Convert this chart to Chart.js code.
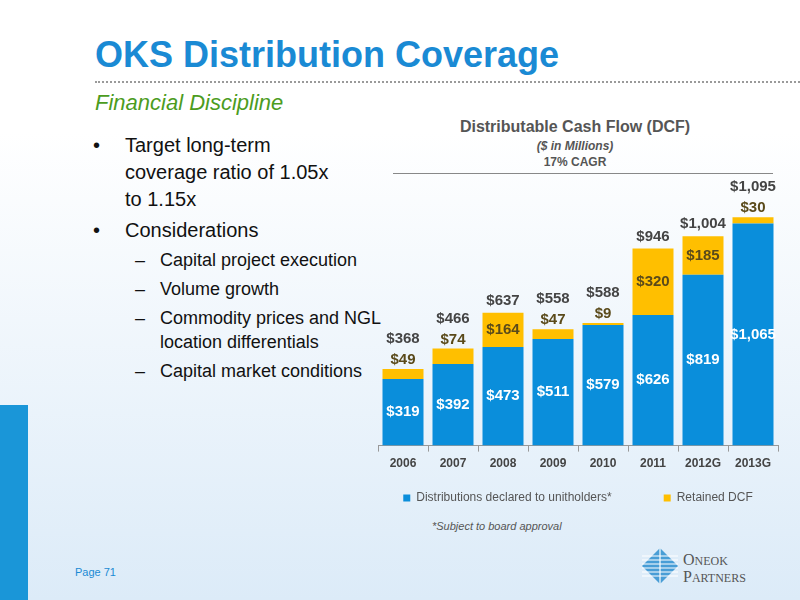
<!DOCTYPE html>
<html>
<head>
<meta charset="utf-8">
<script src="https://cdn.jsdelivr.net/npm/chart.js@4"></script>
<style>
  body { margin: 0; width: 800px; height: 600px; overflow: hidden; position: relative;
         font-family: "Liberation Sans", Arial, sans-serif;
         background: linear-gradient(to bottom, #ffffff 0%, #ffffff 22%, #dcebf8 100%); }
  .abs { position: absolute; white-space: nowrap; }
  #title { left: 95px; top: 34px; font-size: 36px; font-weight: bold; color: #1a8ad4; }
  #dots { left: 95px; top: 81px; width: 705px; border-top: 2px dotted #9a9a9a; }
  #sub { left: 95px; top: 90px; font-size: 22px; font-style: italic; color: #4c9c1e; }
  .b1 { font-size: 20px; color: #111; }
  .b2 { font-size: 18px; color: #111; font-family: "Liberation Sans Narrow", "Liberation Sans", sans-serif; }
  #strip { left: 0; top: 405px; width: 28px; height: 195px; background: #1a96d8; }
  #ctitle { left: 390px; width: 370px; top: 118px; text-align: center; font-size: 16px; font-weight: bold; color: #555;
            font-family: "Liberation Sans Narrow", sans-serif; }
  #cunit { left: 390px; width: 370px; top: 139px; text-align: center; font-size: 12px; font-weight: bold; font-style: italic; color: #555; font-family: "Liberation Sans Narrow", sans-serif; }
  #ccagr { left: 390px; width: 370px; top: 155px; text-align: center; font-size: 12px; font-weight: bold; color: #555; font-family: "Liberation Sans Narrow", sans-serif; }
  #cline { left: 393px; top: 173px; width: 380px; border-top: 1px solid #888; }
  #note { left: 432px; top: 520px; font-size: 11px; font-style: italic; color: #555; font-family: "Liberation Sans Narrow", sans-serif; }
  #page { left: 75px; top: 566px; font-size: 11px; color: #1a8ad4; }
  #logo1 { left: 683px; top: 551px; font-size: 16px; color: #555; font-family: "Liberation Serif", serif; }
  #logo2 { left: 683px; top: 568px; font-size: 16px; color: #555; font-family: "Liberation Serif", serif; }
  #wrap { position: absolute; left: 378px; top: 150px; width: 402px; height: 364px; }
</style>
</head>
<body>
<div class="abs" id="title">OKS Distribution Coverage</div>
<div class="abs" id="dots"></div>
<div class="abs" id="sub">Financial Discipline</div>
<div class="abs b1" style="left:93px;top:134px">•</div>
<div class="abs b1" style="left:125px;top:134px">Target long-term</div>
<div class="abs b1" style="left:125px;top:161px">coverage ratio of 1.05x</div>
<div class="abs b1" style="left:125px;top:188px">to 1.15x</div>
<div class="abs b1" style="left:93px;top:219px">•</div>
<div class="abs b1" style="left:125px;top:219px">Considerations</div>
<div class="abs b2" style="left:135px;top:250px">–</div>
<div class="abs b2" style="left:160px;top:250px">Capital project execution</div>
<div class="abs b2" style="left:135px;top:279px">–</div>
<div class="abs b2" style="left:160px;top:279px">Volume growth</div>
<div class="abs b2" style="left:135px;top:308px">–</div>
<div class="abs b2" style="left:160px;top:308px">Commodity prices and NGL</div>
<div class="abs b2" style="left:160px;top:332px">location differentials</div>
<div class="abs b2" style="left:135px;top:361px">–</div>
<div class="abs b2" style="left:160px;top:361px">Capital market conditions</div>
<div class="abs" id="strip"></div>
<div class="abs" id="ctitle">Distributable Cash Flow (DCF)</div>
<div class="abs" id="cunit">($ in Millions)</div>
<div class="abs" id="ccagr">17% CAGR</div>
<div class="abs" id="cline"></div>
<div class="abs" id="note">*Subject to board approval</div>
<div class="abs" id="page">Page 71</div>
<svg class="abs" style="left:640px;top:546px" width="40" height="40" viewBox="0 0 40 40">
  <polygon points="20,2 38,20 20,38 2,20" fill="#2e8fd0" opacity="0.85"/>
  <g stroke="#ffffff" stroke-width="1.2">
    <line x1="2" y1="10" x2="38" y2="10"/><line x1="2" y1="14" x2="38" y2="14"/>
    <line x1="2" y1="18" x2="38" y2="18"/><line x1="2" y1="22" x2="38" y2="22"/>
    <line x1="2" y1="26" x2="38" y2="26"/><line x1="2" y1="30" x2="38" y2="30"/>
    <line x1="20" y1="2" x2="20" y2="38"/>
  </g>
</svg>
<div class="abs" id="logo1">O<span style="font-size:12px">NEOK</span></div>
<div class="abs" id="logo2">P<span style="font-size:12px">ARTNERS</span></div>
<div id="wrap"><canvas id="c"></canvas></div>
<script>
const years = ['2006', '2007', '2008', '2009', '2010', '2011', '2012G', '2013G'];
const distributions = [319, 392, 473, 511, 579, 626, 819, 1065];
const retained = [49, 74, 164, 47, 9, 320, 185, 30];
const totals = [368, 466, 637, 558, 588, 946, 1004, 1095];

const fmt = v => '$' + v.toLocaleString('en-US');

// value labels inside / above the stacks
const labelPlugin = {
  id: 'labels',
  afterDatasetsDraw(chart) {
    const ctx = chart.ctx;
    ctx.save();
    ctx.textAlign = 'center';
    ctx.textBaseline = 'middle';
    ctx.font = 'bold 15px "Liberation Sans Narrow", sans-serif';
    const m0 = chart.getDatasetMeta(0), m1 = chart.getDatasetMeta(1);
    years.forEach((y, i) => {
      const b0 = m0.data[i], b1 = m1.data[i];
      ctx.fillStyle = '#ffffff';
      ctx.fillText(fmt(distributions[i]), b0.x, (b0.y + b0.base) / 2);
      let top = b1.y;
      ctx.fillStyle = '#5a4a1a';
      if (b1.base - b1.y < 22) {
        top = b1.y - 18;
        ctx.fillText(fmt(retained[i]), b1.x, b1.y - 9);
      } else {
        ctx.fillText(fmt(retained[i]), b1.x, (b1.y + b1.base) / 2);
      }
      ctx.fillStyle = '#444444';
      ctx.fillText(fmt(totals[i]), b1.x, top - 12);
    });
    ctx.restore();
  }
};

new Chart(document.getElementById('c'), {
  type: 'bar',
  data: {
    labels: years,
    datasets: [
      { label: 'Distributions declared to unitholders*', data: distributions, backgroundColor: '#0a8edb' },
      { label: 'Retained DCF', data: retained, backgroundColor: '#ffbf00' }
    ]
  },
  options: {
    responsive: true,
    maintainAspectRatio: false,
    animation: false,
    categoryPercentage: 0.82,
    barPercentage: 1,
    layout: { padding: { top: 35, right: 2 } },
    plugins: {
      tooltip: { enabled: false },
      legend: {
        position: 'bottom',
        labels: {
          boxWidth: 7, boxHeight: 7, padding: 16, color: '#555',
          font: { size: 12, family: '"Liberation Sans Narrow", sans-serif' },
          generateLabels(chart) {
            const items = Chart.defaults.plugins.legend.labels.generateLabels(chart);
            items[0].text += '\u2003'.repeat(3);
            return items;
          }
        }
      }
    },
    scales: {
      x: {
        stacked: true,
        grid: { display: true, drawOnChartArea: false, tickLength: 6, color: '#999' },
        border: { color: '#999' },
        ticks: { color: '#444', padding: 5, font: { size: 12, weight: 'bold', family: '"Liberation Sans Narrow", sans-serif' } }
      },
      y: { stacked: true, display: false, min: 0, max: 1250 }
    }
  },
  plugins: [labelPlugin]
});
</script>
</body>
</html>
